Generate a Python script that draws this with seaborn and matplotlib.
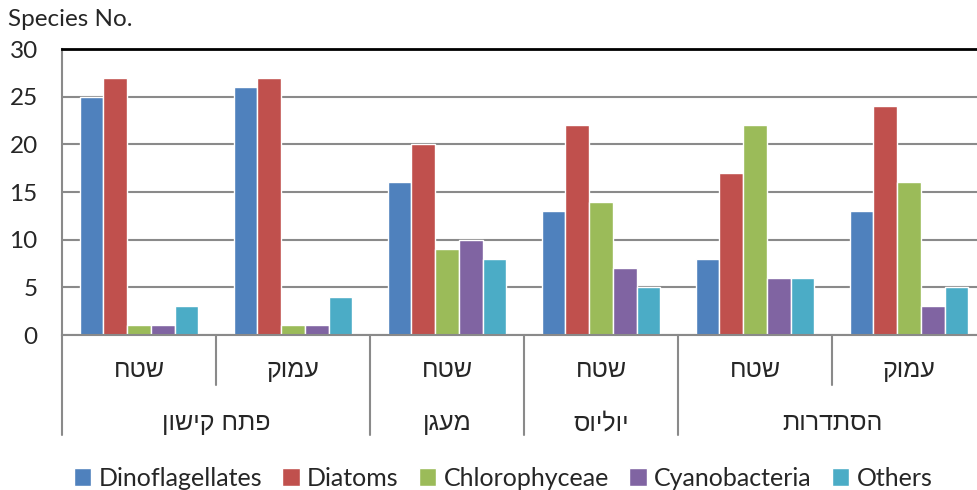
import numpy as np
import pandas as pd
import matplotlib
matplotlib.use("Agg")
import matplotlib.pyplot as plt
import matplotlib.transforms as mtransforms
import seaborn as sns

# data
stations = ["c0", "c1", "c2", "c3", "c4", "c5"]
depth_labels = ["שטח", "עמוק", "שטח", "שטח", "שטח", "עמוק"]
site_labels = ["פתח קישון", "מעגן", "יוליוס", "הסתדרות"]
site_spans = [(0, 2), (2, 3), (3, 4), (4, 6)]
groups = ["Dinoflagellates", "Diatoms", "Chlorophyceae", "Cyanobacteria", "Others"]
dinoflagellates = [25, 26, 16, 13, 8, 13]
diatoms = [27, 27, 20, 22, 17, 24]
chlorophyceae = [1, 1, 9, 14, 22, 16]
cyanobacteria = [1, 1, 10, 7, 6, 3]
others = [3, 4, 8, 5, 6, 5]
colors = ["#4F81BD", "#C0504D", "#9BBB59", "#8064A2", "#4BACC6"]

rows = []
for g, vals in zip(groups, [dinoflagellates, diatoms, chlorophyceae, cyanobacteria, others]):
    for s, v in zip(stations, vals):
        rows.append({"station": s, "group": g, "count": v})
df = pd.DataFrame(rows)

sns.set_style("white")
plt.rcParams['font.family'] = ['Lato', 'DejaVu Sans']
heb = ['Liberation Sans', 'DejaVu Sans']

def rtl(s):
    # matplotlib has no bidi, flip hebrew by hand
    return s[::-1]

fig = plt.figure(figsize=(9.77, 4.9), dpi=100)
ax = fig.add_axes([62/977, 1-335/490, 924/977, 286/490])

sns.barplot(data=df, x="station", y="count", hue="group", order=stations,
            hue_order=groups, palette=colors, width=0.77, errorbar=None,
            saturation=1, ax=ax)
h, l = ax.get_legend_handles_labels()
ax.legend_.remove()

ax.set_ylim(0, 30)
ax.set_xlim(-0.5, 5.5)
ax.set_yticks(range(0, 31, 5))
ax.set_xticks([])
ax.set_xlabel("")
ax.set_ylabel("")
ax.yaxis.grid(True, color="#8a8a8a", lw=1.5)
ax.set_axisbelow(True)
ax.tick_params(axis="y", length=7.5, width=1.5, color="#8a8a8a", labelsize=17.5, pad=10)
for side in ["left", "bottom"]:
    ax.spines[side].set_color("#8a8a8a")
    ax.spines[side].set_linewidth(1.5)
ax.spines["top"].set_color("black")
ax.spines["top"].set_linewidth(2)
ax.spines["right"].set_visible(False)

fig.text(8/977, 1-20/490, "Species No.", fontsize=17.5, va="center", ha="left")

# two-level category axis under the bars
tr = mtransforms.blended_transform_factory(ax.transData, fig.transFigure)
y0 = 1-335/490
for x in [0.5, 4.5]:
    ax.plot([x, x], [y0, 1-385/490], color="#8a8a8a", lw=1.5, transform=tr, clip_on=False)
for x in [-0.5, 1.5, 2.5, 3.5, 5.5]:
    ax.plot([x, x], [y0, 1-435/490], color="#8a8a8a", lw=1.5, transform=tr, clip_on=False)
for i, lab in enumerate(depth_labels):
    ax.text(i, 1-370/490, rtl(lab), transform=tr, ha="center", va="center",
            fontsize=18, family=heb)
for lab, (a, b) in zip(site_labels, site_spans):
    ax.text((a + b - 1) / 2, 1-423/490, rtl(lab), transform=tr, ha="center",
            va="center", fontsize=18, family=heb)

fig.legend(h, l, loc="center", bbox_to_anchor=(0.515, 1-478/490), ncol=5,
           frameon=False, fontsize=18, handlelength=0.7, handleheight=0.7,
           handletextpad=0.3, columnspacing=0.8, borderpad=0)

fig.savefig("out.png", dpi=100)
